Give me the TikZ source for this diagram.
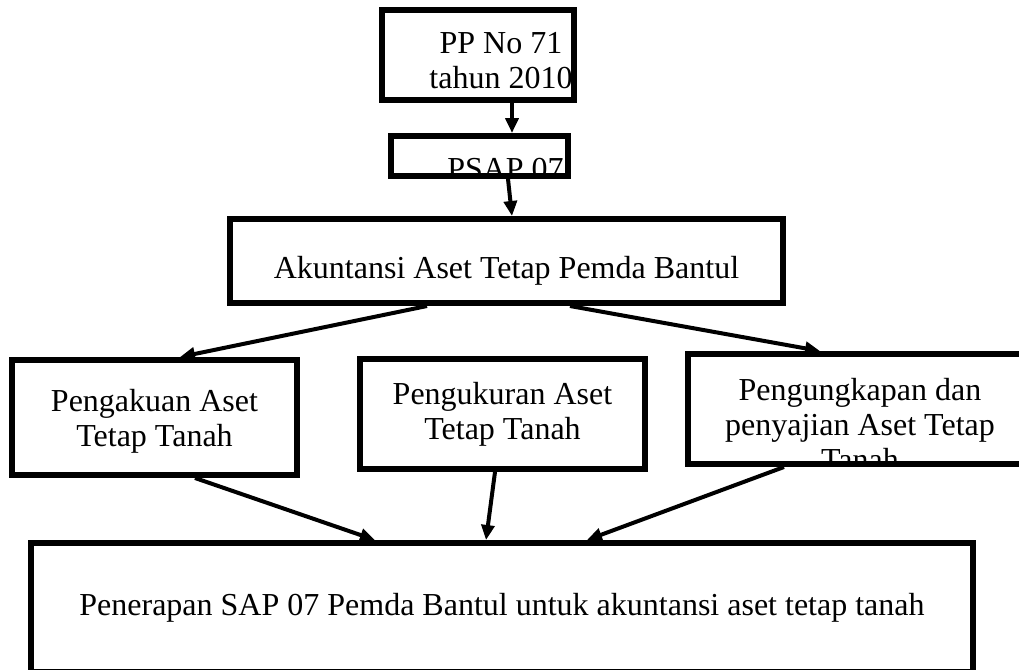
\documentclass[tikz,border=0pt]{standalone}
\usepackage{fontspec}
\setmainfont{Liberation Serif}
\usetikzlibrary{arrows.meta}

\begin{document}
\begin{tikzpicture}[
  x=0.5pt, y=-0.5pt,
  font=\fontsize{16pt}{17.5pt}\selectfont,
  box/.style ={draw, line width=3pt, fill=white, align=center, inner sep=0pt},
  txt/.style ={align=center, inner sep=0pt},
  % text that the frame cuts off, frame drawn again on top
  cliptext/.style 2 args={path picture={
    \node[txt] at ([#1]path picture bounding box.center) {#2};
    \draw[line width=3pt] (path picture bounding box.south west)
      rectangle (path picture bounding box.north east);}},
  arr/.style ={-{Triangle[length=7.5pt, width=6.5pt]}, line width=2pt},
]
\useasboundingbox (0,0) rectangle (1019,670);
\clip (0,0) rectangle (1019,670);

% top chain
\node[box, minimum width=96pt, minimum height=45pt,
  cliptext={xshift=11.5pt, yshift=-3pt}{PP No 71\\ tahun 2010}] (pp) at (478,55) {};
\node[box, minimum width=88.5pt, minimum height=20pt,
  cliptext={xshift=13pt, yshift=-6.5pt}{PSAP 07}] (psap) at (479.5,156) {};
\node[box, minimum width=276.5pt, minimum height=42pt,
  cliptext={yshift=-5pt}{Akuntansi Aset Tetap Pemda Bantul}] (akun) at (506.5,261) {};

% three aspects
\node[box, minimum width=142.5pt, minimum height=57.5pt,
  cliptext={yshift=-2pt}{Pengakuan Aset\\ Tetap Tanah}] (pengakuan) at (154.5,417.5) {};
\node[box, minimum width=142.5pt, minimum height=55pt] (pengukuran) at (502.5,414)
  {Pengukuran Aset\\ Tetap Tanah};
\node[box, minimum width=172pt, minimum height=55pt,
  cliptext={yshift=-8pt}{Pengungkapan dan\\ penyajian Aset Tetap\\ Tanah}]
  (pengungkapan) at (860,409) {};

\node[box, minimum width=471pt, minimum height=64.5pt] (penerapan) at (502,607.5)
  {Penerapan SAP 07 Pemda Bantul untuk akuntansi aset tetap tanah};

\draw[arr] ([xshift=17pt]pp.south) -- ([xshift=16.25pt]psap.north);
\draw[arr] ([xshift=14.25pt]psap.south) -- ([xshift=2.75pt]akun.north);
\draw[arr] ([xshift=-39.75pt]akun.south) -- ([xshift=12.75pt]pengakuan.north);
\draw[arr] ([xshift=31.75pt]akun.south) -- ([xshift=-20pt]pengungkapan.north);
\draw[arr] ([xshift=20.25pt]pengakuan.south) -- ([xshift=-63.5pt]penerapan.north);
\draw[arr] ([xshift=-3.75pt]pengukuran.south) -- ([xshift=-8pt]penerapan.north);
\draw[arr] ([xshift=-38pt]pengungkapan.south) -- ([xshift=42.5pt]penerapan.north);
\end{tikzpicture}
\end{document}
